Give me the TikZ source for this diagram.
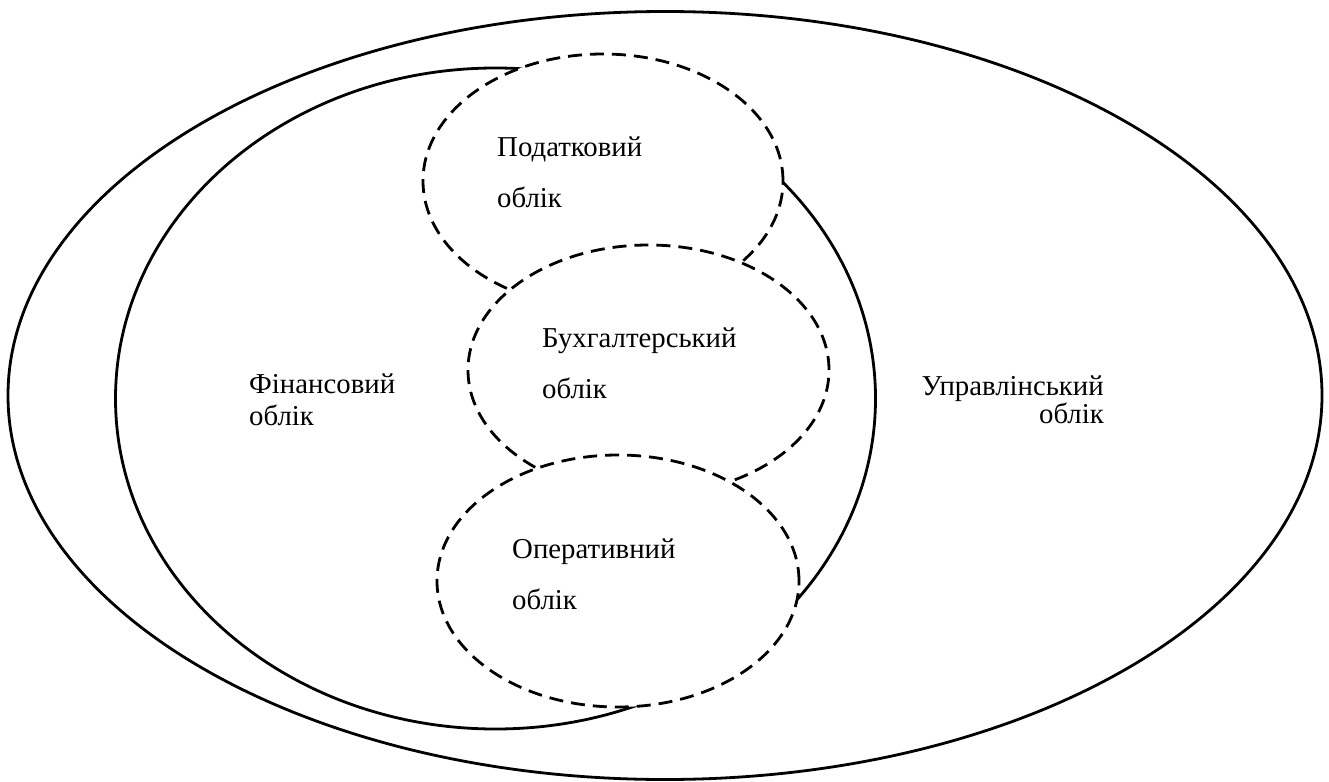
\documentclass[tikz,border=0pt]{standalone}
\usepackage{fontspec}
\setmainfont{Liberation Serif}
\usetikzlibrary{shapes.geometric}
\tikzset{
  solidoval/.style={ellipse, draw=black, line width=2.8pt, inner sep=0pt},
  dashoval/.style={ellipse, draw=black, fill=white, line width=2.8pt, inner sep=0pt, dash pattern=on 14pt off 8pt},
  lbl/.style={inner sep=0pt, font=\fontspec{Liberation Serif}\fontsize{28.8}{28.8}\selectfont}
}
\begin{document}
\begin{tikzpicture}[x=1pt, y=-1pt]
\useasboundingbox (0,0) rectangle (1329,781);
\node[solidoval, minimum width=1314pt, minimum height=768pt] (upr) at (665,395.5) {};
\node[solidoval, minimum width=760pt, minimum height=661pt] (fin) at (495.5,398.5) {};
\node[dashoval, minimum width=360pt, minimum height=254pt] (pod) at (603,181) {};
\node[dashoval, minimum width=361pt, minimum height=250pt] (buh) at (648.5,370) {};
\node[dashoval, minimum width=362pt, minimum height=252pt] (oper) at (618,581) {};
\node[lbl, anchor=base west] (pod1) at (497,156) {Податковий};
\node[lbl, anchor=base west] (pod2) at (497,207) {облік};
\node[lbl, anchor=base west] (buh1) at (542,347) {Бухгалтерський};
\node[lbl, anchor=base west] (buh2) at (542,398) {облік};
\node[lbl, anchor=base west] (oper1) at (512,558) {Оперативний};
\node[lbl, anchor=base west] (oper2) at (512,609) {облік};
\node[lbl, anchor=base west] (fin1) at (249,393) {Фінансовий};
\node[lbl, anchor=base west] (fin2) at (249,425) {облік};
\node[lbl, anchor=base east] (upr1) at (1104,395) {Управлінський};
\node[lbl, anchor=base east] (upr2) at (1104,423) {облік};
\end{tikzpicture}
\end{document}
